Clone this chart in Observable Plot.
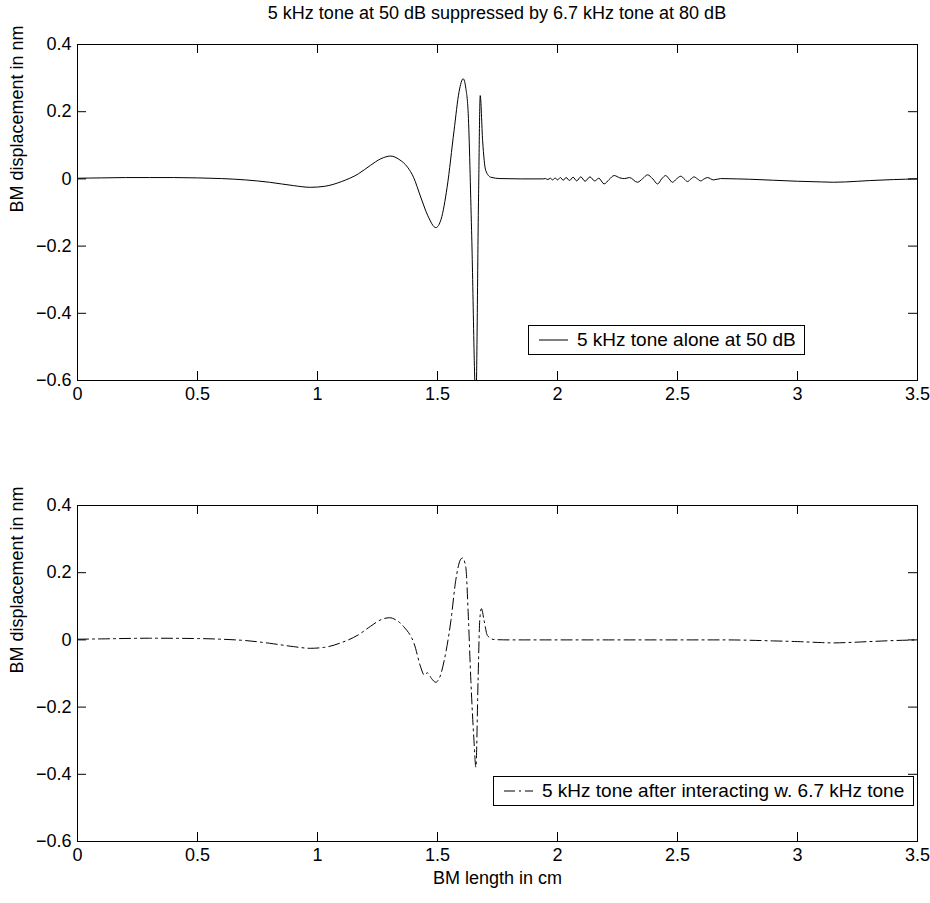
<!DOCTYPE html>
<html><head><meta charset="utf-8">
<script src="https://cdn.jsdelivr.net/npm/d3@7"></script>
<script src="https://cdn.jsdelivr.net/npm/@observablehq/plot@0.6"></script>
<style>
body{margin:0;background:#fff;}
#wrap{position:relative;width:930px;height:903px;font-family:"Liberation Sans",Arial,sans-serif;overflow:hidden;}
#wrap svg{display:block;font-family:"Liberation Sans",Arial,sans-serif;}
.title{position:absolute;left:77px;width:840px;top:3px;text-align:center;font-size:18px;color:#000;white-space:nowrap;}
.legend{position:absolute;border:1px solid #000;background:#fff;font-size:19px;display:flex;align-items:center;box-sizing:border-box;color:#000;white-space:nowrap;}
.legend svg{margin:0 9px 0 10px;flex:none;}
</style></head><body>
<div id="wrap">
  <div class="title" id="title"></div>
  <div id="top"></div>
  <div id="bottom"></div>
</div>
<script>
const titleText = "5 kHz tone at 50 dB suppressed by 6.7 kHz tone at 80 dB";
const yLabel = "BM displacement in nm";
const xLabel = "BM length in cm";
const legendTop = "5 kHz tone alone at 50 dB";
const legendBottom = "5 kHz tone after interacting w. 6.7 kHz tone";
const xTicks = [0, 0.5, 1, 1.5, 2, 2.5, 3, 3.5];
const yTicks = [-0.6, -0.4, -0.2, 0, 0.2, 0.4];

// 5 kHz tone alone (top)
const aloneX = [0,0.1,0.2,0.3,0.4,0.5,0.6,0.7,0.8,0.9,0.97,1.03,1.1,1.17,1.22,1.264,1.305,1.34,1.375,1.40,1.43,1.46,1.493,1.515,1.54,1.569,1.59,1.607,1.618,1.628,1.642,1.66,1.671,1.678,1.688,1.701,1.722,1.76,1.85,1.94,1.95,1.96,1.97,1.98,1.99,2.0,2.012,2.024,2.036,2.05,2.065,2.08,2.097,2.115,2.135,2.155,2.172,2.194,2.215,2.236,2.26,2.28,2.30,2.333,2.355,2.375,2.397,2.417,2.434,2.451,2.465,2.479,2.496,2.514,2.528,2.542,2.556,2.569,2.583,2.597,2.611,2.625,2.65,2.68,2.75,2.8,2.9,3.0,3.1,3.15,3.2,3.3,3.4,3.5];
const aloneY = [0.002,0.003,0.004,0.004,0.004,0.003,0.001,-0.003,-0.010,-0.020,-0.025,-0.022,-0.008,0.015,0.040,0.060,0.068,0.058,0.035,0.005,-0.054,-0.110,-0.145,-0.120,-0.025,0.144,0.260,0.298,0.270,0.194,-0.154,-0.660,-0.054,0.248,0.114,0.025,0.005,0.001,0,0,0.001,-0.002,0.002,-0.003,0.003,-0.003,0.004,-0.004,0.004,-0.005,0.005,-0.006,0.006,-0.007,0.006,-0.006,0.002,-0.015,-0.002,0.010,0.003,0.001,0.004,-0.010,0.001,0.012,0.000,-0.015,0.000,0.010,0.000,-0.010,0.000,0.008,0.000,-0.008,0.000,0.006,0.000,-0.006,0.000,0.004,-0.003,0.001,0,-0.001,-0.004,-0.007,-0.009,-0.010,-0.009,-0.005,-0.002,0];

// 5 kHz tone after interacting (bottom)
const afterX = [0,0.1,0.3,0.5,0.6,0.7,0.8,0.9,0.97,1.03,1.1,1.17,1.22,1.264,1.3,1.33,1.361,1.403,1.43,1.445,1.458,1.475,1.493,1.51,1.528,1.556,1.576,1.595,1.604,1.618,1.628,1.639,1.652,1.66,1.669,1.676,1.683,1.694,1.708,1.736,1.8,2.0,2.5,2.7,2.9,3.0,3.1,3.15,3.2,3.3,3.4,3.5];
const afterY = [0.002,0.003,0.005,0.004,0.002,-0.002,-0.010,-0.020,-0.025,-0.022,-0.008,0.015,0.040,0.060,0.066,0.058,0.038,-0.012,-0.081,-0.105,-0.098,-0.115,-0.126,-0.110,-0.061,0.058,0.177,0.238,0.244,0.216,0.077,-0.121,-0.300,-0.379,-0.121,0.058,0.093,0.058,0.013,0.001,0,0,0,0,-0.003,-0.005,-0.008,-0.009,-0.008,-0.005,-0.002,0];

document.getElementById("title").textContent = titleText;

const W = 840, H = 336, FS = 18;
const fmt = d => (d < 0 ? "\u2212" : "") + String(Math.abs(d));

function panel({xs, ys, dash, mt, mb, showXLabel}) {
  const data = xs.map((x, i) => ({x, y: ys[i]}));
  const innerX = xTicks.slice(1, -1), innerY = yTicks.slice(1, -1);
  const marks = [
    Plot.line(data, {x: "x", y: "y", stroke: "black", strokeWidth: 1, curve: "monotone-x", clip: true, strokeDasharray: dash}),
    Plot.frame({stroke: "black", strokeWidth: 1}),
    Plot.ruleX(innerX, {insetTop: H - 9, stroke: "black"}),
    Plot.ruleX(innerX, {insetBottom: H - 9, stroke: "black"}),
    Plot.ruleY(innerY, {insetLeft: W - 9, stroke: "black"}),
    Plot.ruleY(innerY, {insetRight: W - 9, stroke: "black"}),
    Plot.axisX(xTicks, {tickSize: 0, tickPadding: 7, tickFormat: fmt, fontSize: FS, label: null}),
    Plot.axisY(yTicks, {tickSize: 0, tickPadding: 6, tickFormat: fmt, fontSize: FS, label: null}),
    Plot.text([yLabel], {text: d => d, frameAnchor: "left", dx: -60, rotate: -90, fontSize: FS, fill: "black"})
  ];
  if (showXLabel) marks.push(Plot.text([xLabel], {text: d => d, frameAnchor: "bottom", dy: 42, fontSize: FS, fill: "black"}));
  return Plot.plot({
    width: 930, height: mt + H + mb,
    marginLeft: 77, marginRight: 13, marginTop: mt, marginBottom: mb,
    style: {background: "white", color: "black", fontSize: FS + "px", overflow: "visible"},
    x: {domain: [0, 3.5]},
    y: {domain: [-0.6, 0.4]},
    marks
  });
}

document.getElementById("top").appendChild(panel({xs: aloneX, ys: aloneY, dash: null, mt: 44, mb: 30, showXLabel: false}));
document.getElementById("bottom").appendChild(panel({xs: afterX, ys: afterY, dash: "11,4,2,4", mt: 95, mb: 62, showXLabel: true}));

function legend(text, dash, left, top, width) {
  const d = document.createElement("div");
  d.className = "legend";
  d.style.left = left + "px"; d.style.top = top + "px"; d.style.width = width + "px"; d.style.height = "30px";
  d.innerHTML = `<svg width="29" height="4"><line x1="0" x2="29" y1="2" y2="2" stroke="black" stroke-width="1" ${dash ? `stroke-dasharray="${dash}"` : ""}/></svg><span></span>`;
  d.querySelector("span").textContent = text;
  document.getElementById("wrap").appendChild(d);
}
legend(legendTop, null, 528, 325, 277);
legend(legendBottom, "11,4,2,4", 493, 776, 421);
</script>
</body></html>
